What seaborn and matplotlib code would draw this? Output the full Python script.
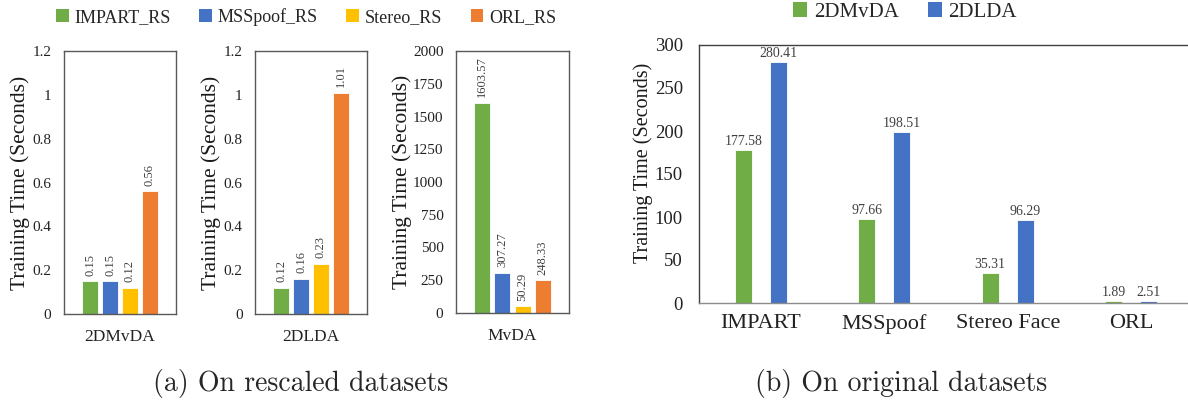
import matplotlib
matplotlib.use("Agg")
import matplotlib.pyplot as plt
from matplotlib.patches import Patch
from matplotlib.ticker import FuncFormatter
import seaborn as sns
import pandas as pd

# ---------------- data ----------------
datasets_rs = ["IMPART_RS", "MSSpoof_RS", "Stereo_RS", "ORL_RS"]
time_2dmvda_rs = [0.15, 0.15, 0.12, 0.56]
time_2dlda_rs = [0.12, 0.16, 0.23, 1.01]
time_mvda_rs = [1603.57, 307.27, 50.29, 248.33]

datasets_orig = ["IMPART", "MSSpoof", "Stereo Face", "ORL"]
methods_orig = ["2DMvDA", "2DLDA"]
time_2dmvda_orig = [177.58, 97.66, 35.31, 1.89]
time_2dlda_orig = [280.41, 198.51, 96.29, 2.51]

rs_colors = ["#70AD47", "#4472C4", "#FFC000", "#ED7D31"]
orig_colors = ["#70AD47", "#4472C4"]

sns.set_style("white")
plt.rcParams["font.family"] = ["Liberation Serif", "DejaVu Serif"]

W, H = 1188, 404
fig = plt.figure(figsize=(W / 100, H / 100), dpi=100)

def box(l, b, w, h):
    return [l / W, b / H, w / W, h / H]

ax1 = fig.add_axes(box(64, 90, 112, 263))
ax2 = fig.add_axes(box(255, 90, 112, 263))
ax3 = fig.add_axes(box(456, 91, 113, 262))
ax4 = fig.add_axes(box(699, 101, 489, 258))

fmt_g = FuncFormatter(lambda v, p: f"{v:g}")

def small_panel(ax, method, values, ymax, ystep, label_x):
    df = pd.DataFrame({"method": method, "dataset": datasets_rs, "time": values})
    sns.barplot(data=df, x="method", y="time", hue="dataset", hue_order=datasets_rs,
                palette=rs_colors, width=0.714, gap=0.2, saturation=1,
                legend=False, ax=ax, edgecolor="white", linewidth=0.6)
    ax.set_ylim(0, ymax)
    ax.set_yticks([i * ystep for i in range(int(round(ymax / ystep)) + 1)])
    ax.yaxis.set_major_formatter(fmt_g)
    ax.set_xlabel("")
    ax.set_ylabel("Training Time (Seconds)", fontsize=15.5, color="#1a1a1a")
    ax.yaxis.set_label_coords(label_x, 0.5)
    ax.tick_params(axis="y", direction="in", length=3, width=0.8, color="#7f7f7f",
                   pad=9, labelsize=11, labelcolor="#222222")
    ax.tick_params(axis="x", length=0, pad=11, labelsize=12.5, labelcolor="#222222")
    for s in ax.spines.values():
        s.set_visible(True)
        s.set_color("#595959")
        s.set_linewidth(1.0)
    for c in ax.containers:
        ax.bar_label(c, fmt="%.2f", rotation=90, padding=4, fontsize=9, color="#404040")

small_panel(ax1, "2DMvDA", time_2dmvda_rs, 1.2, 0.2, -0.30)
small_panel(ax2, "2DLDA", time_2dlda_rs, 1.2, 0.2, -0.30)
small_panel(ax3, "MvDA", time_mvda_rs, 2000, 250, -0.39)

# ---------------- right panel ----------------
df_o = pd.DataFrame({
    "dataset": datasets_orig * 2,
    "method": [methods_orig[0]] * 4 + [methods_orig[1]] * 4,
    "time": time_2dmvda_orig + time_2dlda_orig,
})
sns.barplot(data=df_o, x="dataset", y="time", hue="method", hue_order=methods_orig,
            order=datasets_orig, palette=orig_colors, width=0.567, gap=0.51,
            saturation=1, legend=False, ax=ax4, edgecolor="white", linewidth=0.6)
ax4.set_xlim(-0.5, 3.46)
ax4.set_ylim(0, 300)
ax4.set_yticks(range(0, 301, 50))
ax4.set_xlabel("")
ax4.set_ylabel("Training Time (Seconds)", fontsize=14.5, color="#1a1a1a")
ax4.yaxis.set_label_coords(-0.094, 0.545)
ax4.tick_params(axis="y", direction="in", length=5, width=0.8, color="#7f7f7f",
                pad=11.5, labelsize=13.5, labelcolor="#222222")
ax4.tick_params(axis="x", length=0, pad=8, labelsize=16, labelcolor="#222222")
for name, s in ax4.spines.items():
    s.set_linewidth(1.0)
    s.set_color("#404040")
ax4.spines["right"].set_visible(False)
ax4.spines["bottom"].set_color("#8c8c8c")
for c in ax4.containers:
    ax4.bar_label(c, fmt="%.2f", padding=1.5, fontsize=10, color="#404040")

# ---------------- legends ----------------
h_rs = [Patch(facecolor=c, edgecolor="none") for c in rs_colors]
fig.legend(h_rs, datasets_rs, loc="center", bbox_to_anchor=(306 / W, 1 - 17 / H),
           ncol=4, frameon=False, fontsize=13, handlelength=0.7, handleheight=0.7,
           handletextpad=0.3, columnspacing=1.6)
h_o = [Patch(facecolor=c, edgecolor="none") for c in orig_colors]
fig.legend(h_o, methods_orig, loc="center", bbox_to_anchor=(905 / W, 1 - 12 / H),
           ncol=2, frameon=False, fontsize=15, handlelength=0.7, handleheight=0.7,
           handletextpad=0.3, columnspacing=1.4)

# ---------------- captions ----------------
fig.text(301 / W, 1 - 383 / H, "(a) On rescaled datasets", ha="center", va="center",
         fontsize=20, family=["cmr10", "DejaVu Serif"])
fig.text(901 / W, 1 - 383 / H, "(b) On original datasets", ha="center", va="center",
         fontsize=20, family=["cmr10", "DejaVu Serif"])

fig.savefig("out.png", dpi=100)
